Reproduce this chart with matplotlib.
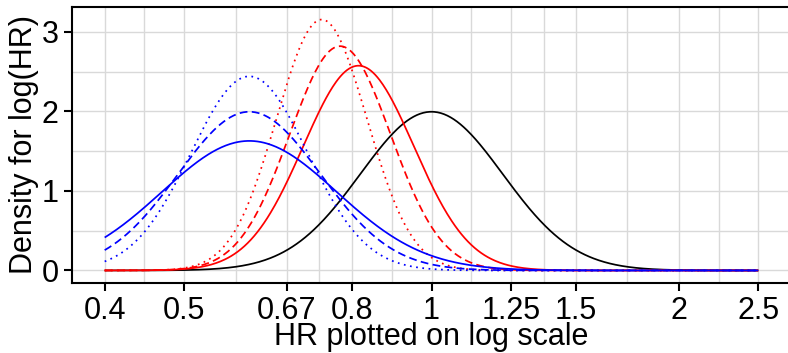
import numpy as np
import matplotlib
matplotlib.use("Agg")
import matplotlib.pyplot as plt

# Normal densities on log(HR) scale, parameters
curve_names = ["prior", "post_a", "post_b", "post_c", "lik_a", "lik_b", "lik_c"]
curve_hr_peak = [1.0, 0.815, 0.774, 0.735, 0.60, 0.60, 0.60]
curve_sd = [0.200, 0.155, 0.1415, 0.1265, 0.245, 0.200, 0.1635]
curve_colors = ["black", "#FF0000", "#FF0000", "#FF0000", "#0000FF", "#0000FF", "#0000FF"]
curve_styles = ["solid", "solid", "dashed", "dotted", "solid", "dashed", "dotted"]

hr_range = [0.4, 2.5]
x_tick_values = [0.4, 0.5, 2 / 3, 0.8, 1, 1.25, 1.5, 2, 2.5]
x_tick_labels = ["0.4", "0.5", "0.67", "0.8", "1", "1.25", "1.5", "2", "2.5"]
y_tick_values = [0, 1, 2, 3]

plt.rcParams["font.family"] = ["Liberation Sans", "DejaVu Sans"]

W, H = 788, 353
fig = plt.figure(figsize=(W / 100, H / 100), dpi=100)
L, R, T, B = 72, 791, 7, 283
ax = fig.add_axes([L / W, 1 - B / H, (R - L) / W, (B - T) / H])

loghr = np.linspace(np.log(hr_range[0]), np.log(hr_range[1]), 600)
hr = np.exp(loghr)
ymax = 0
for pk, sd, c, ls in zip(curve_hr_peak, curve_sd, curve_colors, curve_styles):
    mu = np.log(pk)
    dens = np.exp(-0.5 * ((loghr - mu) / sd) ** 2) / (sd * np.sqrt(2 * np.pi))
    ymax = max(ymax, dens.max())
    line, = ax.plot(hr, dens, color=c, lw=1.25, solid_capstyle="butt", zorder=3)
    if ls == "dashed":
        line.set_dashes((4.5, 2.5))
    elif ls == "dotted":
        line.set_dashes((1, 2.6))

ax.set_xscale("log")
lo, hi = np.log(hr_range[0]), np.log(hr_range[1])
ex = 0.05 * (hi - lo)
ax.set_xlim(np.exp(lo - ex), np.exp(hi + ex))
ax.set_ylim(-0.05 * ymax, 1.05 * ymax)

ax.set_xticks(x_tick_values)
ax.set_xticklabels(x_tick_labels)
ax.xaxis.set_minor_locator(matplotlib.ticker.NullLocator())
ax.set_yticks(y_tick_values)

grid_c = "#D9D9D9"
lt = np.log(x_tick_values)
for a, b in zip(lt[:-1], lt[1:]):
    ax.axvline(np.exp((a + b) / 2), color=grid_c, lw=1.0, zorder=1)
for v in x_tick_values:
    ax.axvline(v, color=grid_c, lw=1.0, zorder=1)
for v in y_tick_values:
    ax.axhline(v, color=grid_c, lw=1.0, zorder=1)
for v in [0.5, 1.5, 2.5]:
    ax.axhline(v, color=grid_c, lw=1.0, zorder=1)

for s in ["left", "bottom", "top"]:
    ax.spines[s].set_color("black")
    ax.spines[s].set_linewidth(1.5)
ax.spines["right"].set_visible(False)

ax.tick_params(axis="both", which="major", length=5.5, width=1.5, color="black",
               labelsize=22, labelcolor="black", pad=4)
ax.set_xlabel("HR plotted on log scale", fontsize=22, labelpad=-3)
ax.set_ylabel("Density for log(HR)", fontsize=22, labelpad=2)

fig.savefig("out.png", dpi=100)
